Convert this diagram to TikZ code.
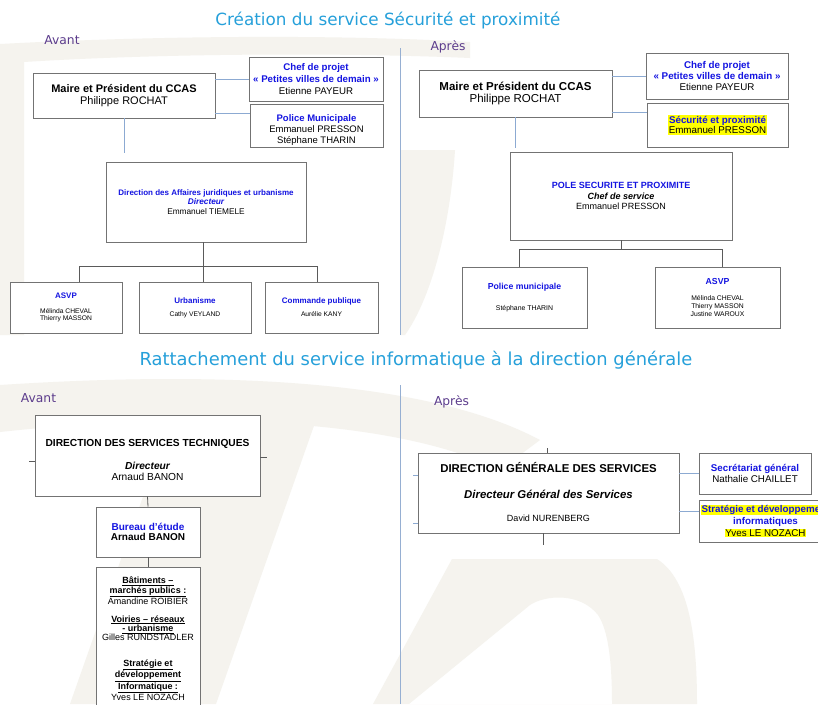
\documentclass[tikz,border=0pt]{standalone}
\usepackage{fontspec}
\setmainfont{Liberation Sans}
\newfontfamily\ttlfont{DejaVu Sans}
\usetikzlibrary{calc}
\definecolor{ttlc}{RGB}{38,160,218}
\definecolor{purp}{RGB}{92,60,140}
\definecolor{bl}{RGB}{20,20,225}
\definecolor{connc}{RGB}{140,170,210}
\definecolor{divc}{RGB}{150,175,210}
\definecolor{boxc}{RGB}{115,115,115}
\definecolor{treec}{RGB}{90,90,90}
\definecolor{wm}{RGB}{245,243,238}
\definecolor{hly}{RGB}{255,255,0}
\newcommand\myfs[2]{\fontsize{#1}{#2}\selectfont}
\newcommand\bbl[1]{\textcolor{bl}{\bfseries #1}}
\newcommand\hlt[1]{{\setlength{\fboxsep}{0.6pt}\colorbox{hly}{#1}}}
\tikzset{
 box/.style={draw=boxc, line width=0.8pt, fill=white, inner sep=0pt, align=center},
 txt/.style={inner sep=0pt, align=center},
 conn/.style={draw=connc, line width=0.9pt},
 tree/.style={draw=treec, line width=0.8pt},
 divl/.style={draw=divc, line width=0.9pt},
 ttl/.style={inner sep=0pt, anchor=base, text=ttlc},
 phase/.style={inner sep=0pt, anchor=base, text=purp, font=\ttlfont\myfs{12.3}{14}},
}
\begin{document}
\begin{tikzpicture}[x=1pt,y=-1pt]
\useasboundingbox (0,0) rectangle (818,704);
\clip (0,0) rectangle (818,704);
\fill[white] (0,0) rectangle (818,704);
% watermark
\fill[wm] (0,44) .. controls (150,36) and (330,34) .. (470,42) -- (470,58) .. controls (330,52) and (150,54) .. (24,62) -- (24,335) -- (0,335) -- cycle;
\fill[wm] (400,150) -- (455,150) .. controls (450,230) and (430,300) .. (405,335) -- (400,335) -- cycle;
\fill[wm] (0,385) .. controls (200,372) and (420,376) .. (540,440) -- (500,470) .. controls (400,420) and (200,410) .. (0,432) -- cycle;
\fill[wm] (170,420) -- (316,420) -- (216,704) -- (70,704) -- cycle;
\fill[wm, even odd rule] (373,704) -- (452,559) -- (657,559) .. controls (690,580) and (697,640) .. (697,704) -- cycle
  (409,704) -- (530,605) .. controls (545,595) and (580,592) .. (598,615) .. controls (608,630) and (612,660) .. (612,704) -- cycle;

% titles
\node[ttl, font=\ttlfont\myfs{16.8}{20}] (t1) at (388,25) {Création du service Sécurité et proximité};
\node[ttl, font=\ttlfont\myfs{17.9}{21}] (t2) at (416,365.5) {Rattachement du service informatique à la direction générale};
\node[phase] (avA) at (62,44.5) {Avant};
\node[phase] (apA) at (448,50.5) {Après};
\node[phase] (avB) at (38.5,402.5) {Avant};
\node[phase] (apB) at (451.5,405.5) {Après};

% dividers
\coordinate (dv1a) at (400,48); \coordinate (dv1b) at (400,335);
\coordinate (dv2a) at (400,385); \coordinate (dv2b) at (400,704);
\draw[divl] (dv1a) -- (dv1b);
\draw[divl] (dv2a) -- (dv2b);

% ===== top left =====
\node[box, minimum width=182pt, minimum height=45pt, font=\myfs{11}{11.7}] (maireA) at (124,95.5) {\textbf{Maire et Président du CCAS}\\Philippe ROCHAT};
\node[box, minimum width=134pt, minimum height=44pt, font=\myfs{9.7}{11.7}] (chefA) at (316,79) {\bbl{Chef de projet}\\\bbl{« Petites villes de demain »}\\Etienne PAYEUR};
\node[box, minimum width=133pt, minimum height=43pt] (polA) at (316.5,125.5) {};
\node[txt, font=\myfs{9.5}{11}] (polAt) at (316.5,130) {\bbl{Police Municipale}\\Emmanuel PRESSON\\Stéphane THARIN};
\node[box, minimum width=200pt, minimum height=80pt, font=\myfs{8.3}{9.8}] (dajr) at (206,202) {\myfs{8}{9.8}\bbl{Direction des Affaires juridiques et urbanisme}\\\textcolor{bl}{\bfseries\itshape Directeur}\\Emmanuel TIEMELE};
\node[box, minimum width=112pt, minimum height=51pt, font=\myfs{6.7}{7.7}] (asvpA) at (66,307.5) {\myfs{8}{9}\bbl{ASVP}\\[7pt]Mélinda CHEVAL\\Thierry MASSON};
\node[box, minimum width=112pt, minimum height=51pt, font=\myfs{6.7}{7.7}] (urb) at (195,307.5) {\myfs{8}{9}\bbl{Urbanisme}\\[5.3pt]Cathy VEYLAND};
\node[box, minimum width=113pt, minimum height=51pt, font=\myfs{6.7}{7.7}] (cmd) at (321.5,307.5) {\myfs{8}{9}\bbl{Commande publique}\\[5.3pt]Aurélie KANY};

\coordinate (cA2) at (250,113);
\coordinate (stubA) at (124,153);
\draw[conn] (maireA.east |- chefA.west) -- (chefA.west);
\draw[conn] (maireA.east |- cA2) -- (polA.west |- cA2);
\draw[conn] (maireA.south) -- (stubA);
\coordinate (tlA) at (79,266); \coordinate (tlC) at (203,266); \coordinate (tlB) at (317,266);
\draw[tree] (tlC |- dajr.south) -- (tlC |- urb.north);
\draw[tree] (tlA |- asvpA.north) -- (tlA) -- (tlB) -- (tlB |- cmd.north);

% ===== top right =====
\node[box, minimum width=193pt, minimum height=47pt, font=\myfs{11.5}{12.7}] (maireB) at (515.5,93.5) {\textbf{Maire et Président du CCAS}\\Philippe ROCHAT};
\node[box, minimum width=142pt, minimum height=46pt, font=\myfs{9.8}{11}] (chefB) at (717,76) {\bbl{Chef de projet}\\\bbl{« Petites villes de demain »}\\Etienne PAYEUR};
\node[box, minimum width=141pt, minimum height=44pt, font=\myfs{9.8}{10.7}] (secB) at (717.5,125) {\hlt{\bbl{Sécurité et proximité}}\\\hlt{Emmanuel PRESSON}};
\node[box, minimum width=222pt, minimum height=88pt, font=\myfs{9}{10.3}] (pole) at (621,196) {\bbl{POLE SECURITE ET PROXIMITE}\\{\bfseries\itshape Chef de service}\\Emmanuel PRESSON};
\node[box, minimum width=125pt, minimum height=61pt, font=\myfs{6.9}{8}] (polB) at (524.5,297.5) {\myfs{8.7}{10}\bbl{Police municipale}\\[13pt]Stéphane THARIN};
\node[box, minimum width=125pt, minimum height=61pt, font=\myfs{6.8}{7.6}] (asvpB) at (717.5,297.5) {\myfs{8.7}{10}\bbl{ASVP}\\[8.4pt]Mélinda CHEVAL\\Thierry MASSON\\Justine WAROUX};

\coordinate (cB2) at (646,112);
\coordinate (stubB) at (515.5,148);
\draw[conn] (maireB.east |- chefB.west) -- (chefB.west);
\draw[conn] (maireB.east |- cB2) -- (secB.west |- cB2);
\draw[conn] (maireB.south) -- (stubB);
\coordinate (trA) at (519,249); \coordinate (trC) at (621,249); \coordinate (trB) at (722,249);
\draw[tree] (pole.south) -- (trC);
\draw[tree] (trA |- polB.north) -- (trA) -- (trB) -- (trB |- asvpB.north);

% ===== bottom left =====
\node[box, minimum width=225pt, minimum height=81pt] (dst) at (147.5,455.5) {};
\node[txt, font=\myfs{10.2}{11.5}] (dstt) at (147.5,460) {\textbf{DIRECTION DES SERVICES TECHNIQUES}\\[11.5pt]{\bfseries\itshape Directeur}\\Arnaud BANON};
\node[box, minimum width=104pt, minimum height=50pt, font=\myfs{10}{10.5}] (bur) at (148,532) {\bbl{Bureau d'étude}\\\textbf{Arnaud BANON}};
\node[box, minimum width=104pt, minimum height=150pt] (subs) at (148,642) {};
\node[txt, anchor=north, font=\myfs{9}{9.4}] (subst) at (148,577) {\textbf{\underline{Bâtiments –}}\\\textbf{\underline{marchés publics :}}\\Amandine ROIBIER\\[8pt]\textbf{\underline{Voiries – réseaux}}\\\textbf{\underline{- urbanisme}}\\Gilles RUNDSTADLER\\[16pt]\textbf{\underline{Stratégie et}}\\\textbf{\underline{développement}}\\\textbf{\underline{Informatique :}}\\Yves LE NOZACH};
\coordinate (sL) at (29,461); \coordinate (sR) at (267,457);
\draw[tree] (sL) -- (dst.west |- sL);
\draw[tree] (dst.east |- sR) -- (sR);
\draw[tree] (dst.south) -- (bur.north);
\draw[tree] (bur.south) -- (subs.north);

% ===== bottom right =====
\node[box, minimum width=261pt, minimum height=80pt] (dgs) at (548.5,493) {};
\node[txt, font=\myfs{11.4}{13}] (dgst) at (548.5,491.5) {\textbf{DIRECTION GÉNÉRALE DES SERVICES}\\[13pt]{\bfseries\itshape Directeur Général des Services}\\[10pt]\myfs{9}{10}David NURENBERG};
\node[box, minimum width=112pt, minimum height=41pt, font=\myfs{9.8}{11}] (sec) at (755,473.5) {\bbl{Secrétariat général}\\Nathalie CHAILLET};
\node[box, minimum width=133pt, minimum height=42pt, font=\myfs{9.8}{12}] (strat) at (765.5,521) {\hlt{\bbl{Stratégie et développement}}\\\bbl{informatiques}\\\hlt{Yves LE NOZACH}};
\coordinate (sT) at (547,448); \coordinate (sB) at (543,545);
\coordinate (sL1) at (413,475); \coordinate (sL2) at (413,523);
\coordinate (cC2) at (699,511);
\draw[tree] (sT) -- (sT |- dgs.north);
\draw[tree] (sB |- dgs.south) -- (sB);
\draw[conn] (sL1) -- (dgs.west |- sL1);
\draw[conn] (sL2) -- (dgs.west |- sL2);
\draw[conn] (dgs.east |- sec.west) -- (sec.west);
\draw[conn] (dgs.east |- cC2) -- (cC2);
\end{tikzpicture}
\end{document}
